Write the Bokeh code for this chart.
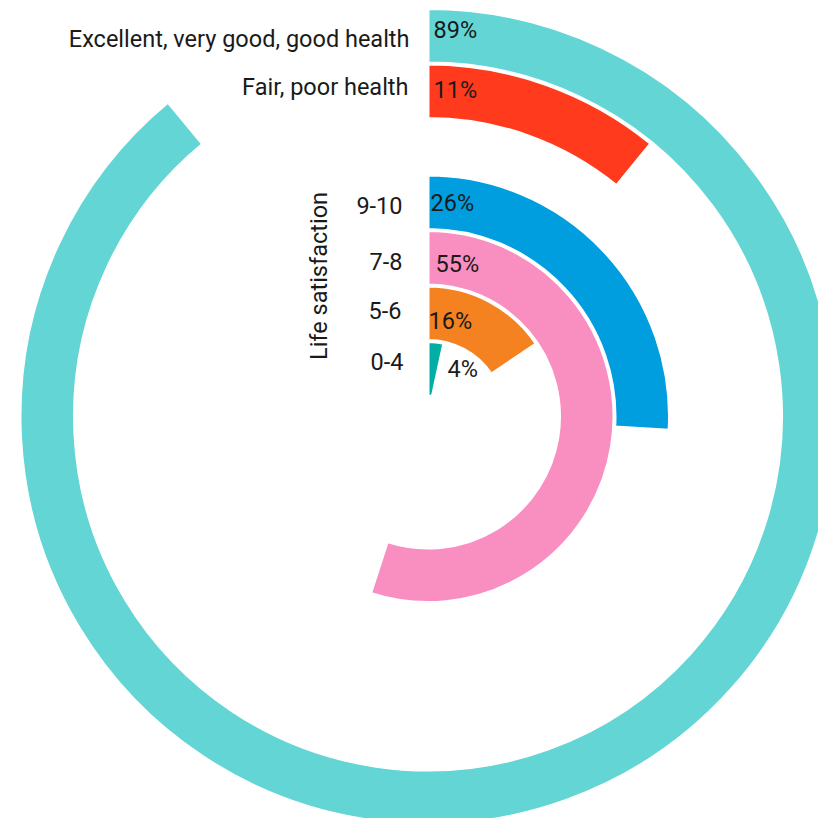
import math
from bokeh.plotting import figure
from bokeh.models import ColumnDataSource, Range1d, Label
from bokeh.embed import file_html
from bokeh.resources import INLINE
from bokeh.core.properties import value

# ---- data ----
categories = ["Excellent, very good, good health", "Fair, poor health",
              "9-10", "7-8", "5-6", "0-4"]
# arc shares as drawn in the picture (percent of a full turn)
values = [89.0, 10.9, 25.9, 55.0, 15.6, 3.4]
# printed labels
value_labels = ["89%", "11%", "26%", "55%", "16%", "4%"]
group_title = "Life satisfaction"

# ---- style ----
colors = ["#62D5D4", "#FF3A1D", "#009DDF", "#F98EC0", "#F58220", "#00AEA6"]
ring_slot = [0, 1, 3, 4, 5, 6]          # slot 2 left empty as a spacer
pct_dx = [5.5, 5.5, 2.5, 7.5, 0.5, 19.5]
pct_dy = [6, 1.5, -1, -6, -7.5, -0.5]
cat_x = [-18.5, -19.5, -25.5, -25.5, -26.5, -24.5]
cat_dy = [-3, 4.5, -3.5, -4, 2.5, 7.5]
FONT = value("Roboto")
FS = value("23.5px")
TXT = "#1a1a1a"

W = H = 818
cx, cy = 427.5, 402
OUT0, STEP, THICK = 408, 55.5, 54.5

outer = [OUT0 - STEP * s for s in ring_slot]
inner = [o - THICK for o in outer]
mid = [(o + i) / 2 for o, i in zip(outer, inner)]
start = [math.pi / 2] * len(values)
end = [math.pi / 2 - v / 100 * 2 * math.pi for v in values]

src = ColumnDataSource(dict(inner=inner, outer=outer, start=start, end=end, color=colors))

p = figure(width=W, height=H, x_range=Range1d(0, W), y_range=Range1d(0, H),
           output_backend="svg", toolbar_location=None, min_border=0)
p.axis.visible = False
p.grid.visible = False
p.outline_line_color = None
p.background_fill_color = "white"

p.annular_wedge(x=cx, y=cy, inner_radius="inner", outer_radius="outer",
                start_angle="start", end_angle="end", direction="clock",
                fill_color="color", line_color="white", line_width=3, source=src)

pct_src = ColumnDataSource(dict(
    x=[cx + d for d in pct_dx],
    y=[cy + m + d for m, d in zip(mid, pct_dy)],
    t=value_labels))
p.text(x="x", y="y", text="t", source=pct_src, text_align="left", text_baseline="middle",
       text_font=FONT, text_font_size=FS, text_color=TXT)

cat_src = ColumnDataSource(dict(
    x=[cx + d for d in cat_x],
    y=[cy + m + d for m, d in zip(mid, cat_dy)],
    t=categories))
p.text(x="x", y="y", text="t", source=cat_src, text_align="right", text_baseline="middle",
       text_font=FONT, text_font_size=FS, text_color=TXT)

p.add_layout(Label(x=cx - 109.5, y=cy + 140.5, text=group_title, angle=math.pi / 2,
                   text_align="center", text_baseline="middle",
                   text_font="Roboto", text_font_size="23.5px", text_color=TXT))

open("out.html", "w").write(file_html(p, INLINE))
